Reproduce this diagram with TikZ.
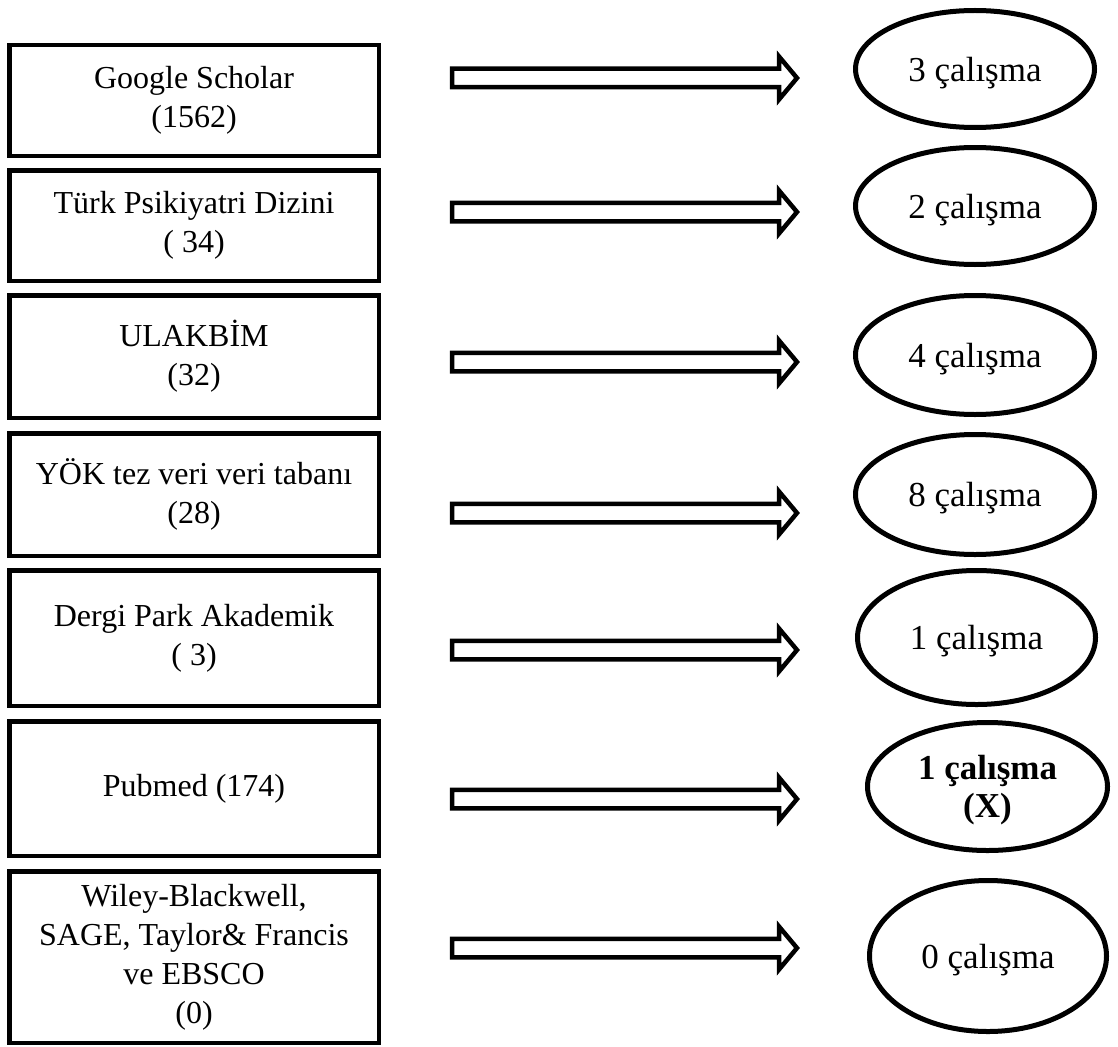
\documentclass[tikz,border=0pt]{standalone}
\usepackage{fontspec}
\setmainfont{Liberation Serif}
\usetikzlibrary{shapes.geometric}

\tikzset{
  dbbox/.style={draw, line width=4.5pt, minimum width=369.5pt, align=center, inner sep=0pt},
  resell/.style={draw, ellipse, line width=5pt, minimum width=239pt, align=center, inner sep=0pt,
    text depth=0pt, font=\fontsize{35pt}{38pt}\selectfont},
  blockarrow/.style={draw, line width=4.5pt, line join=miter, fill=white}
}

\begin{document}
\begin{tikzpicture}[x=1pt, y=-1pt, font=\fontsize{32pt}{39pt}\selectfont]
  \useasboundingbox (0,0) rectangle (1118,1046);
  % databases
  \node[dbbox, minimum height=110.5pt] (gs) at (194,100.5) {Google Scholar\\(1562)};
  \node[dbbox, minimum height=110.5pt] (tpd) at (194,225.5) {Türk Psikiyatri Dizini\\( 34)};
  \node[dbbox, minimum height=122.5pt] (ulak) at (194,356.5) {ULAKBİM\\(32)};
  \node[dbbox, minimum height=122.5pt] (yok) at (194,494.5) {YÖK tez veri veri tabanı\\(28)};
  \node[dbbox, minimum height=135.5pt] (dpark) at (194,638) {Dergi Park Akademik\\( 3)};
  \node[dbbox, minimum height=134.5pt] (pubmed) at (194,788.5) {Pubmed (174)};
  \node[dbbox, minimum height=171.5pt] (others) at (194,957)
    {Wiley-Blackwell,\\SAGE, Taylor\& Francis\\ve EBSCO\\(0)};
  % results
  \node[resell, minimum height=117pt] (r1) at (975,69) {3 çalışma};
  \node[resell, minimum height=117pt] (r2) at (975,206) {2 çalışma};
  \node[resell, minimum height=119pt] (r3) at (975,355) {4 çalışma};
  \node[resell, minimum height=120pt] (r4) at (975,494.5) {8 çalışma};
  \node[resell, minimum width=238pt, minimum height=134pt] (r5) at (976.5,637.5) {1 çalışma};
  \node[resell, minimum width=240pt, minimum height=128pt,
    font=\fontsize{35pt}{38pt}\selectfont\bfseries] (r6) at (987.5,786.5) {1 çalışma\\(X)};
  \node[resell, minimum width=237pt, minimum height=151pt] (r7) at (988,956) {0 çalışma};
  % arrows
  \foreach \y in {78,212,362,513,650,799,948}
    \draw[blockarrow] (452,\y-9.25) -- (779,\y-9.25) -- (779,\y-21.5) -- (797,\y)
      -- (779,\y+21.5) -- (779,\y+9.25) -- (452,\y+9.25) -- cycle;
\end{tikzpicture}
\end{document}
